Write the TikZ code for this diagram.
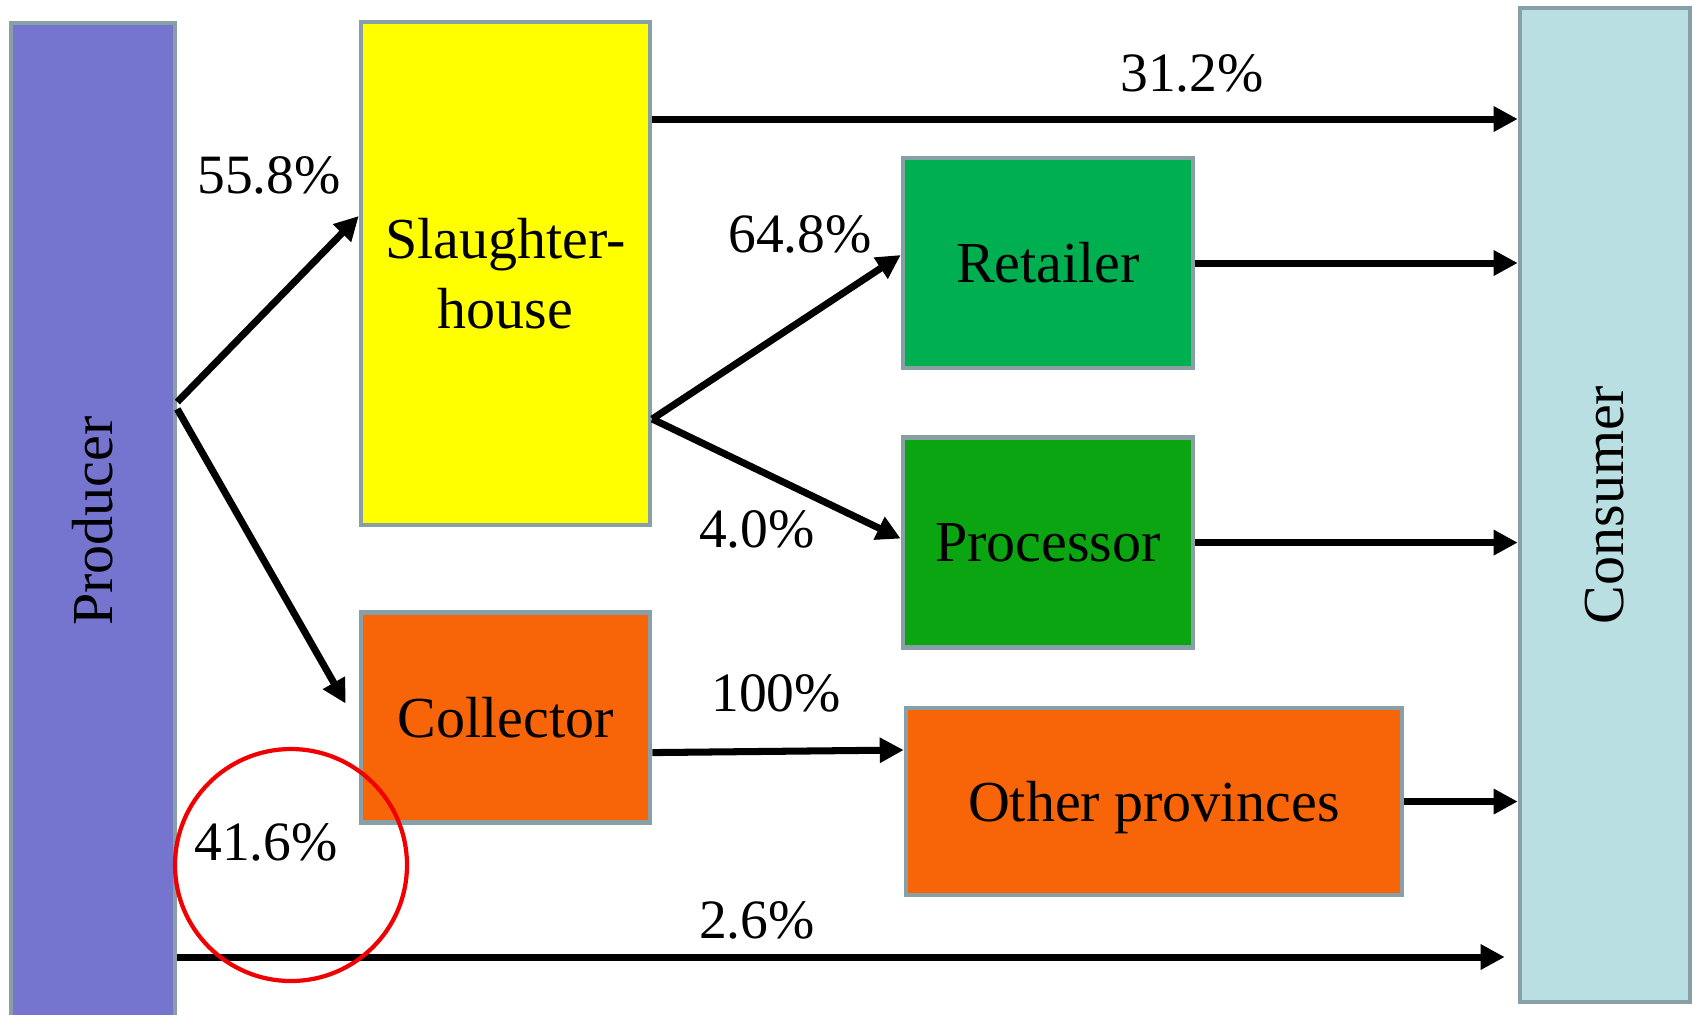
\documentclass[tikz,border=0pt]{standalone}
\usepackage{fontspec}
\setmainfont{Liberation Serif}
\usepackage{tikz}
\usetikzlibrary{arrows.meta, positioning}
\definecolor{VC_EDGE}{HTML}{88A0A5}
\definecolor{VC_PROD}{HTML}{7575CF}
\definecolor{VC_CONS}{HTML}{B9DFE3}
\definecolor{VC_YELLOW}{HTML}{FFFF00}
\definecolor{VC_GREEN}{HTML}{00B050}
\definecolor{VC_DGREEN}{HTML}{0AA510}
\definecolor{VC_ORANGE}{HTML}{F76508}
\definecolor{VC_RED}{HTML}{F00000}
\tikzset{
  box/.style={
    rectangle, draw=VC_EDGE, line width=1.3pt,
    text centered, align=center, inner sep=0pt,
    font=\fontsize{16.5}{20}\selectfont},
  side/.style={
    box, minimum height=9.96cm},
  arr/.style={-{Triangle[length=2.4mm,width=2.4mm]}, line width=2pt, black},
  pct/.style={inner sep=0pt, font=\fontsize{15.8}{18}\selectfont},
}

\begin{document}
\begin{tikzpicture}[x=0.1mm, y=-0.1mm]

  \clip (0,0) rectangle (1694,1014);

  % outer columns
  \node[side, fill=VC_PROD, minimum width=1.64cm] (prod) at (93,521)
    {\rotatebox{90}{Producer}};
  \node[side, fill=VC_CONS, minimum width=1.70cm, minimum height=9.94cm] (cons) at (1605,505)
    {\rotatebox{90}{Consumer}};

  % middle boxes
  \node[box, fill=VC_YELLOW, minimum width=2.89cm, minimum height=5.03cm] (slh) at (505.5,273.5)
    {Slaughter-\\house};
  \node[box, fill=VC_ORANGE, minimum width=2.89cm, minimum height=2.10cm, below=0.83cm of slh] (coll)
    {Collector};
  \node[box, fill=VC_GREEN, minimum width=2.90cm, minimum height=2.10cm] (ret) at (1048,263)
    {Retailer};
  \node[box, fill=VC_DGREEN, minimum width=2.90cm, minimum height=2.10cm, below=0.65cm of ret] (procr)
    {Processor};
  \node[box, fill=VC_ORANGE, minimum width=4.96cm, minimum height=1.87cm, text depth=0pt] (oth) at (1154,801.5)
    {Other provinces};

  % flows
  \draw[arr] ([yshift=1.19cm]prod.east) -- ([yshift=0.575cm]slh.west);
  \draw[arr] ([yshift=1.12cm]prod.east) -- ([xshift=-0.13cm,yshift=0.14cm]coll.west);
  \draw[arr] ([yshift=1.545cm]slh.east) coordinate (top) -- (top -| cons.west);
  \draw[arr] ([yshift=-1.455cm]slh.east) -- ([yshift=0.08cm]ret.west);
  \draw[arr] ([yshift=-1.455cm]slh.east) -- ([yshift=0.04cm]procr.west);
  \draw[arr] ([yshift=-0.35cm]coll.east) -- ([yshift=0.515cm]oth.west);
  \draw[arr] (ret.east) -- (ret.east -| cons.west);
  \draw[arr] (procr.east) -- (procr.east -| cons.west);
  \draw[arr] (oth.east) -- (oth.east -| cons.west);
  \draw[arr, shorten >=1.3mm] ([yshift=-4.36cm]prod.east) coordinate (low) -- (low -| cons.west);

  % shares
  \node[pct] (p312) at (1192,73)  {31.2\%};
  \node[pct] (p558) at (269,175)  {55.8\%};
  \node[pct] (p648) at (800,234)  {64.8\%};
  \node[pct] (p40)  at (757,529)  {4.0\%};
  \node[pct] (p100) at (776,693)  {100\%};
  \node[pct] (p416) at (266,842)  {41.6\%};
  \node[pct] (p26)  at (757,920)  {2.6\%};

  \node[circle, draw=VC_RED, line width=1.2pt, minimum size=2.32cm] (mark) at (291,865) {};

\end{tikzpicture}
\end{document}
